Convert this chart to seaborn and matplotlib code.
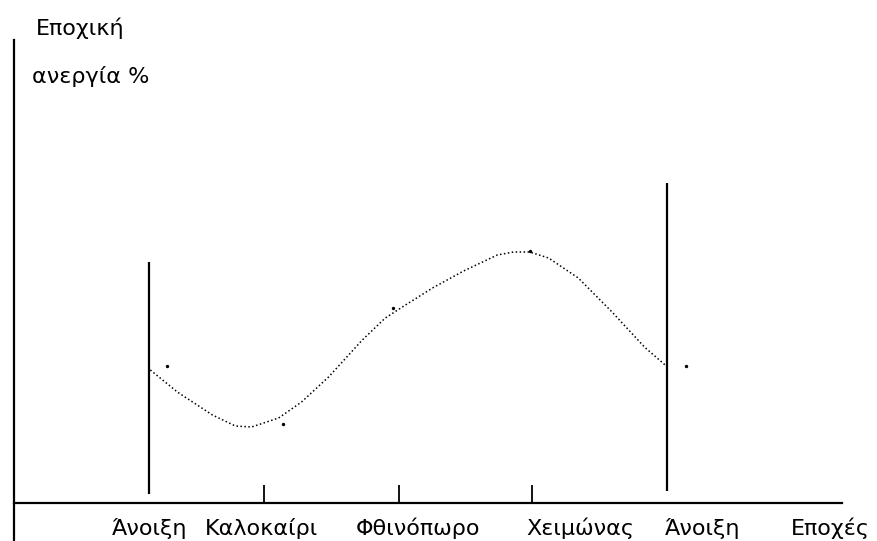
import matplotlib
matplotlib.use("Agg")
import matplotlib.pyplot as plt
import numpy as np
import pandas as pd
import seaborn as sns

# curve of seasonal unemployment (x = season position, y = level)
curve_x = [1.01, 1.21, 1.47, 1.64, 1.76, 1.96, 2.13, 2.33, 2.58, 2.75, 2.90,
           3.10, 3.33, 3.58, 3.70, 3.82, 3.96, 4.18, 4.43, 4.67, 4.84]
curve_y = [2.66, 2.22, 1.76, 1.54, 1.52, 1.70, 2.02, 2.52, 3.26, 3.70, 3.96,
           4.30, 4.64, 4.96, 5.02, 5.02, 4.90, 4.50, 3.82, 3.12, 2.72]

# single dots next to the curve
dot_x = [1.13, 1.99, 2.81, 3.82, 4.98]
dot_y = [2.74, 1.58, 3.90, 5.04, 2.74]

# tall vertical bars at the two springs
bar_x = [1.0, 4.84]
bar_top = [4.82, 6.40]
bar_bottom = [0.18, 0.24]

tick_pos = [1.85, 2.85, 3.84]
season_labels = ["Άνοιξη", "Καλοκαίρι", "Φθινόπωρο", "Χειμώνας", "Άνοιξη", "Εποχές"]
label_pos = [1.007, 1.837, 2.993, 4.193, 5.104, 6.044]

sns.set_theme(style="white")
plt.rcParams['font.family'] = ['DejaVu Sans']

fig = plt.figure(figsize=(8.77, 5.41), dpi=100)
ax = fig.add_axes([0, 0, 1, 1])

curve = pd.DataFrame({"x": curve_x, "y": curve_y})
dots = pd.DataFrame({"x": dot_x, "y": dot_y})

sns.lineplot(data=curve, x="x", y="y", ax=ax, color="black", lw=1.1,
             sort=False, estimator=None)
ax.lines[-1].set_dashes([1, 1.6])
sns.scatterplot(data=dots, x="x", y="y", ax=ax, color="black", s=6,
                linewidth=0)

ax.vlines(bar_x, bar_bottom, bar_top, color="black", lw=1.6)

ax.set_xlim(-0.1037, 6.3926)
ax.set_ylim(-0.76, 10.06)

for side in ["top", "right"]:
    ax.spines[side].set_visible(False)
ax.spines["left"].set_position(("data", 0))
ax.spines["left"].set_bounds(-0.76, 9.26)
ax.spines["bottom"].set_position(("data", 0))
ax.spines["bottom"].set_bounds(0, 6.13)
for side in ["left", "bottom"]:
    ax.spines[side].set_color("black")
    ax.spines[side].set_linewidth(1.6)

ax.set_xticks(tick_pos)
ax.set_xticklabels([])
ax.tick_params(axis="x", direction="in", length=13, width=1.3, color="black",
               bottom=True)
ax.set_yticks([])
ax.set_xlabel("")
ax.set_ylabel("")

for lab, xp in zip(season_labels, label_pos):
    ax.text(xp, -0.64, lab, ha="center", va="baseline", fontsize=16,
            color="black")

ax.text(0.163, 9.36, "Εποχική", ha="left", va="baseline", fontsize=16,
        color="black")
ax.text(0.133, 8.40, "ανεργία %", ha="left", va="baseline", fontsize=16,
        color="black")

fig.savefig("out.png", dpi=100)
